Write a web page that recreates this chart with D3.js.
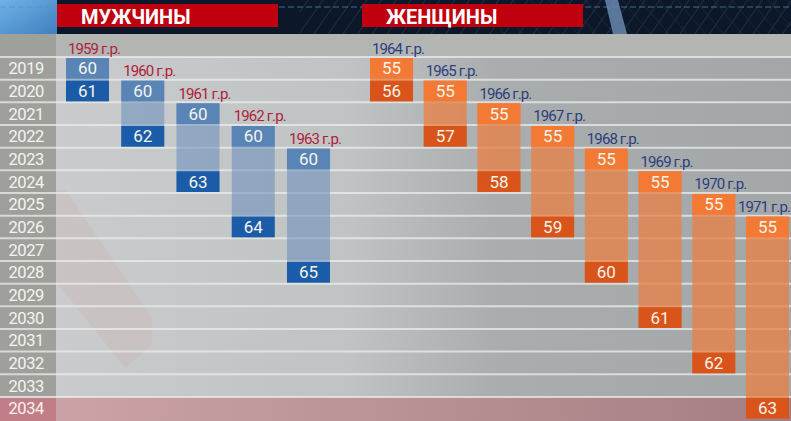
<!DOCTYPE html>
<html><head><meta charset="utf-8">
<script src="https://cdn.jsdelivr.net/npm/d3@7"></script>
<style>html,body{margin:0;padding:0;background:#0c1729;}svg{display:block;}</style>
</head><body><svg id="c" width="791" height="421"></svg>
<script>
// ---- data ----
const years = d3.range(2019, 2035);
const menCohorts = ["1959 г.р.", "1960 г.р.", "1961 г.р.", "1962 г.р.", "1963 г.р."];
const menStartYear = [2019, 2020, 2021, 2022, 2023];
const menEndYear = [2020, 2022, 2024, 2026, 2028];
const menStartAge = [60, 60, 60, 60, 60];
const menEndAge = [61, 62, 63, 64, 65];
const womenCohorts = ["1964 г.р.", "1965 г.р.", "1966 г.р.", "1967 г.р.", "1968 г.р.", "1969 г.р.", "1970 г.р.", "1971 г.р."];
const womenStartYear = [2019, 2020, 2021, 2022, 2023, 2024, 2025, 2026];
const womenEndYear = [2020, 2022, 2024, 2026, 2028, 2030, 2032, 2034];
const womenStartAge = [55, 55, 55, 55, 55, 55, 55, 55];
const womenEndAge = [56, 57, 58, 59, 60, 61, 62, 63];
const groupTitles = ["МУЖЧИНЫ", "ЖЕНЩИНЫ"];

const W = 791, H = 421;
const svg = d3.select("#c");
const defs = svg.append("defs");

// gradients
const gBg = defs.append("linearGradient").attr("id", "bg").attr("x1", 0).attr("x2", 1);
gBg.append("stop").attr("offset", 0).attr("stop-color", "#c9cbcc");
gBg.append("stop").attr("offset", 0.4).attr("stop-color", "#c0c3c4");
gBg.append("stop").attr("offset", 0.6).attr("stop-color", "#a9adae");
gBg.append("stop").attr("offset", 1).attr("stop-color", "#a3a7a8");
const gPink = defs.append("linearGradient").attr("id", "pink").attr("x1", 0).attr("x2", 1);
gPink.append("stop").attr("offset", 0).attr("stop-color", "#cba3a6");
gPink.append("stop").attr("offset", 1).attr("stop-color", "#a47e82");
const gBlue = defs.append("linearGradient").attr("id", "lb").attr("x1", 0).attr("x2", 1).attr("y1", 0).attr("y2", 1);
gBlue.append("stop").attr("offset", 0).attr("stop-color", "#6fb2e6");
gBlue.append("stop").attr("offset", 1).attr("stop-color", "#3f7fbf");
const pat = defs.append("pattern").attr("id", "hatch").attr("width", 12).attr("height", 12)
  .attr("patternUnits", "userSpaceOnUse").attr("patternTransform", "rotate(35)");
pat.append("line").attr("x1", 0).attr("y1", 0).attr("x2", 0).attr("y2", 12).attr("stroke", "#23344c").attr("stroke-width", 2);
const pat2 = defs.append("pattern").attr("id", "hatch2").attr("width", 14).attr("height", 14)
  .attr("patternUnits", "userSpaceOnUse").attr("patternTransform", "rotate(-40)");
pat2.append("line").attr("x1", 0).attr("y1", 0).attr("x2", 0).attr("y2", 14).attr("stroke", "#1c2b40").attr("stroke-width", 1.5);

// scales
const y = d3.scaleBand().domain(years).range([57, 419.6]).padding(0);
const xMen = d3.scaleBand().domain(menCohorts).range([66, 330]).paddingInner(0.222).paddingOuter(0);
const xWomen = d3.scaleBand().domain(womenCohorts).range([370, 789]).paddingInner(0.199).paddingOuter(0);

// ---- header band ----
svg.append("rect").attr("x", 0).attr("y", 0).attr("width", W).attr("height", 34).attr("fill", "#0c1729");
svg.append("rect").attr("x", 300).attr("y", 0).attr("width", W - 300).attr("height", 34).attr("fill", "url(#hatch)").attr("opacity", 0.8);
svg.append("rect").attr("x", 500).attr("y", 0).attr("width", W - 500).attr("height", 34).attr("fill", "url(#hatch2)").attr("opacity", 0.8);
svg.append("rect").attr("x", 0).attr("y", 0).attr("width", 57).attr("height", 34).attr("fill", "url(#lb)");
svg.append("polygon").attr("points", "605,0 618,0 627,34 613,34").attr("fill", "#6f8fb8").attr("opacity", 0.8);
svg.append("line").attr("x1", 0).attr("x2", W).attr("y1", 7).attr("y2", 7).attr("stroke", "#5f8fb8").attr("stroke-width", 1).attr("stroke-dasharray", "6,3").attr("opacity", 0.7);

// ---- plot background ----
svg.append("rect").attr("x", 56).attr("y", 34).attr("width", W - 56).attr("height", H - 34).attr("fill", "url(#bg)");
svg.append("rect").attr("x", 56).attr("y", 34).attr("width", W - 56).attr("height", 23).attr("fill", "#b3b5b3");
// decorative pink diagonal
svg.append("polygon").attr("points", "56,190 66,190 152,318 152,345 125,368 56,282")
  .attr("fill", "#d48a8a").attr("opacity", 0.12);
// 2034 row tint
svg.append("rect").attr("x", 56).attr("y", y(2034)).attr("width", W - 56).attr("height", H - y(2034)).attr("fill", "url(#pink)");

// year column
svg.append("rect").attr("x", 0).attr("y", 34).attr("width", 56).attr("height", H - 34).attr("fill", "#9fa09c");
svg.append("rect").attr("x", 0).attr("y", y(2034)).attr("width", 56).attr("height", H - y(2034)).attr("fill", "#c27e86");

// separator lines
svg.append("g").selectAll("line").data(years).join("line")
  .attr("x1", 0).attr("x2", W)
  .attr("y1", d => y(d)).attr("y2", d => y(d))
  .attr("stroke", "#eceeee").attr("stroke-width", 2).attr("opacity", 0.75);

// year axis
const axis = svg.append("g").attr("transform", "translate(44,0)")
  .call(d3.axisLeft(y).tickSize(0).tickPadding(0));
axis.select(".domain").remove();
axis.selectAll("text").attr("font-family", "Roboto, sans-serif").attr("font-size", 16.5)
  .attr("fill", "#f4f4ee").attr("text-anchor", "end").attr("dy", "0.36em").attr("letter-spacing", -0.4);

// ---- group titles ----
const titleX = [57, 362];
groupTitles.forEach((t, i) => {
  svg.append("rect").attr("x", titleX[i]).attr("y", 4).attr("width", 221).attr("height", 23).attr("fill", "#c0000e");
  svg.append("text").attr("x", titleX[i] + 24).attr("y", 24).text(t)
    .attr("font-family", "Roboto, sans-serif").attr("font-weight", "bold").attr("font-size", 20).attr("fill", "#ffffff");
});

// ---- bars ----
function drawGroup(cohorts, x, sY, eY, sA, eA, col) {
  const data = cohorts.map((c, i) => ({ c, s: sY[i], e: eY[i], sa: sA[i], ea: eA[i] }));
  const g = svg.append("g");
  const rh = y.bandwidth();
  // span
  g.selectAll(".span").data(data).join("rect")
    .attr("x", d => x(d.c)).attr("width", x.bandwidth())
    .attr("y", d => y(d.s) + 1).attr("height", d => y(d.e) + rh - y(d.s) - 2)
    .attr("fill", col.mid);
  // start box
  g.selectAll(".sb").data(data).join("rect")
    .attr("x", d => x(d.c)).attr("width", x.bandwidth())
    .attr("y", d => y(d.s) + 1).attr("height", rh - 2)
    .attr("fill", col.start);
  // end box
  g.selectAll(".eb").data(data).join("rect")
    .attr("x", d => x(d.c)).attr("width", x.bandwidth())
    .attr("y", d => y(d.e) + 1).attr("height", rh - 2)
    .attr("fill", col.end);
  const numStyle = s => s.attr("font-family", "Roboto, sans-serif").attr("font-size", 17)
    .attr("fill", "#f6f4ea").attr("text-anchor", "middle").attr("dy", "0.36em");
  g.selectAll(".st").data(data).join("text")
    .attr("x", d => x(d.c) + x.bandwidth() / 2).attr("y", d => y(d.s) + rh / 2)
    .text(d => d.sa).call(numStyle);
  g.selectAll(".et").data(data).join("text")
    .attr("x", d => x(d.c) + x.bandwidth() / 2).attr("y", d => y(d.e) + rh / 2)
    .text(d => d.ea).call(numStyle);
  // cohort labels
  g.selectAll(".lb").data(data).join("text")
    .attr("x", d => x(d.c) + 2).attr("y", d => y(d.s) - 3.5)
    .text(d => d.c)
    .attr("font-family", "Roboto, sans-serif").attr("font-size", 15).attr("letter-spacing", -0.9)
    .attr("fill", col.label)
    .each(function () {
      const t = d3.select(this);
      const w = this.getComputedTextLength();
      const x0 = +t.attr("x");
      if (x0 + w > W - 1) t.attr("x", W - 1 - w);
    });
}
drawGroup(menCohorts, xMen, menStartYear, menEndYear, menStartAge, menEndAge,
  { start: "#5884b6", mid: "rgba(104,140,186,0.55)", end: "#1b5ca8", label: "#b01e3a" });
drawGroup(womenCohorts, xWomen, womenStartYear, womenEndYear, womenStartAge, womenEndAge,
  { start: "#f37a35", mid: "rgba(232,130,72,0.78)", end: "#d8541a", label: "#2d3e7c" });
</script>
</body></html>
